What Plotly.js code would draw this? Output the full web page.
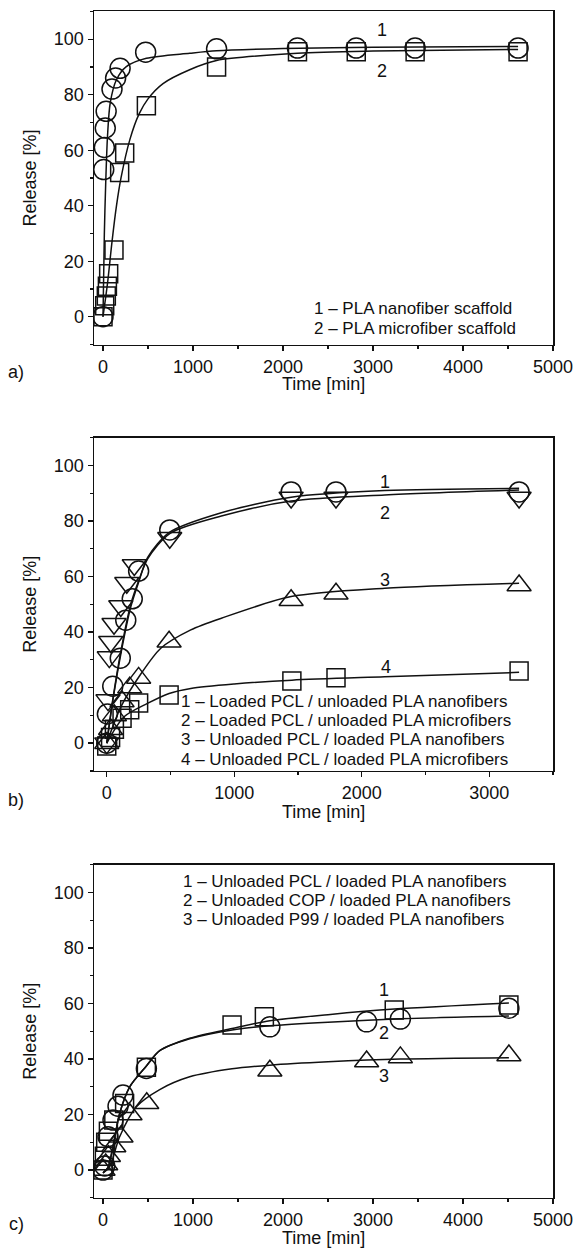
<!DOCTYPE html>
<html>
<head>
<meta charset="utf-8">
<script src="https://cdn.plot.ly/plotly-3.0.1.min.js"></script>
<style>html,body{margin:0;padding:0;background:#fff;}#chart{width:574px;height:1250px;}</style>
</head>
<body>
<div id="chart"></div>
<script>
// ---------- Panel a ----------
const aNames = ['PLA nanofiber scaffold', 'PLA microfiber scaffold'];
const aTime1 = [0, 8, 15, 25, 35, 100, 140, 190, 474, 1262, 2161, 2814, 3468, 4612];
const aRel1  = [0, 53, 61, 68, 74, 82, 86, 89.5, 95.3, 96.5, 96.8, 96.8, 96.8, 96.8];
const aTime2 = [0, 19, 37, 49, 63, 122, 185, 241, 482, 1262, 2161, 2814, 3468, 4612];
const aRel2  = [0, 4, 7.5, 11, 15.5, 24, 52, 59, 76, 90, 95.5, 95.5, 95.5, 95.5];
const aFitT1 = [0, 15, 30, 50, 80, 148, 259, 482, 963, 1262, 2000, 3000, 4612];
const aFitV1 = [0, 30, 48, 65, 77, 85.3, 90.1, 93.1, 94.9, 95.8, 96.6, 97.1, 97.4];
const aFitT2 = [0, 50, 100, 150, 200, 300, 400, 500, 667, 963, 1262, 2161, 3000, 4612];
const aFitV2 = [0, 12, 27, 40, 50, 64, 73, 78.5, 84, 89, 92.3, 94.9, 95.7, 96.3];

// ---------- Panel b ----------
const bNames = ['Loaded PCL / unloaded PLA nanofibers', 'Loaded PCL / unloaded PLA microfibers',
                'Unloaded PCL / loaded PLA nanofibers', 'Unloaded PCL / loaded PLA microfibers'];
const bTime1 = [0, 5, 47, 106, 149, 200, 250, 494, 1446, 1798, 3234];
const bRel1  = [0, 10.5, 20.5, 30.6, 44.3, 52, 62, 76.8, 90.5, 90.5, 90.5];
const bTime2 = [0, 10, 20, 31, 57, 110, 157, 216, 494, 1446, 1798, 3234];
const bRel2  = [0, 15.5, 31, 36.5, 43, 49.4, 57.8, 64.2, 74, 88.5, 88.5, 88.5];
const bTime3 = [0, 30, 60, 120, 180, 250, 489, 1446, 1798, 3234];
const bRel3  = [0, 5, 10, 15, 20, 23.5, 36.5, 51.5, 53.8, 56.8];
const bTime4 = [0, 30, 60, 120, 180, 250, 489, 1452, 1798, 3234];
const bRel4  = [-1, 2, 5, 9, 12, 14.5, 17.3, 22.4, 23.6, 26];
const bFitT1 = [0, 50, 110, 188, 250, 322, 494, 899, 1446, 2180, 3234];
const bFitV1 = [0, 16, 32, 49, 58, 67, 76, 83, 88.6, 91, 91.8];
const bFitT2 = [0, 50, 110, 188, 250, 322, 494, 899, 1446, 2180, 3234];
const bFitV2 = [0, 16.5, 33, 50, 58.5, 66.5, 75.5, 81.8, 87.2, 89.4, 91.2];
const bFitT3 = [0, 110, 254, 424, 659, 899, 1446, 2180, 3234];
const bFitV3 = [0, 13, 24, 34.2, 40.8, 45, 52.8, 55.8, 57.6];
const bFitT4 = [0, 136, 319, 489, 659, 1000, 1452, 2180, 3234];
const bFitV4 = [0, 9.5, 14.3, 17.9, 19.7, 21.3, 22.7, 23.9, 25.5];

// ---------- Panel c ----------
const cNames = ['Unloaded PCL / loaded PLA nanofibers', 'Unloaded COP / loaded PLA nanofibers',
                'Unloaded P99 / loaded PLA nanofibers'];
const cTime1 = [0, 15, 30, 60, 120, 240, 482, 1434, 1793, 3236, 4510];
const cRel1  = [0, 5, 10, 14, 18, 24, 37, 52.3, 55.2, 57.7, 59.5];
const cTime2 = [0, 19, 56, 111, 167, 222, 482, 1854, 2929, 3304, 4510];
const cRel2  = [0, 1.5, 12, 18, 23, 27, 36.6, 51.6, 53.4, 54.4, 58.3];
const cTime3 = [0, 30, 60, 120, 200, 300, 486, 1854, 2929, 3304, 4510];
const cRel3  = [0, 2, 5, 8.5, 12, 20, 24.1, 35.8, 39.1, 40.6, 41.3];
const cFitT1 = [0, 56, 111, 185, 297, 482, 630, 963, 1434, 1854, 2500, 3236, 4510];
const cFitV1 = [-1, 1, 8.5, 20.4, 30, 37.5, 43, 47.5, 51, 53.8, 56, 58, 60.2];
const cFitT2 = [0, 56, 111, 185, 297, 482, 630, 963, 1434, 1854, 2500, 3304, 4510];
const cFitV2 = [-1, 1, 8.5, 20.4, 30, 37.5, 43, 47.3, 50.5, 52, 53.3, 54.5, 55.5];
const cFitT3 = [0, 74, 185, 371, 630, 963, 1434, 1854, 2500, 3304, 4510];
const cFitV3 = [-1, 1.2, 12, 22.8, 29, 33.6, 36.5, 37.8, 39, 40, 40.5];

// ---------- Tick labels ----------
const yTicks = [0, 20, 40, 60, 80, 100];
const xTicksAC = [0, 1000, 2000, 3000, 4000, 5000];
const xTicksB = [0, 1000, 2000, 3000];

const INK = '#111';
const FONT = 'Liberation Sans, Arial, Helvetica, sans-serif';

function pts(x, y, sym, size, xa, ya, name) {
  return {x: x, y: y, xaxis: xa, yaxis: ya, mode: 'markers', type: 'scatter', name: name,
    marker: {symbol: sym, size: size, color: INK, line: {width: 1.5, color: INK}}, showlegend: false};
}
function fit(x, y, xa, ya, name) {
  return {x: x, y: y, xaxis: xa, yaxis: ya, mode: 'lines', type: 'scatter', name: name + ' fit',
    line: {color: INK, width: 1.5, shape: 'spline', smoothing: 0.8}, showlegend: false, hoverinfo: 'skip'};
}

const traces = [
  fit(aFitT1, aFitV1, 'x', 'y', aNames[0]), fit(aFitT2, aFitV2, 'x', 'y', aNames[1]),
  pts(aTime1, aRel1, 'circle-open', 20, 'x', 'y', aNames[0]),
  pts(aTime2, aRel2, 'square-open', 18, 'x', 'y', aNames[1]),

  fit(bFitT1, bFitV1, 'x2', 'y2', bNames[0]), fit(bFitT2, bFitV2, 'x2', 'y2', bNames[1]),
  fit(bFitT3, bFitV3, 'x2', 'y2', bNames[2]), fit(bFitT4, bFitV4, 'x2', 'y2', bNames[3]),
  pts(bTime1, bRel1, 'circle-open', 20, 'x2', 'y2', bNames[0]),
  pts(bTime2, bRel2, 'triangle-down-open', 21, 'x2', 'y2', bNames[1]),
  pts(bTime3, bRel3, 'triangle-up-open', 21, 'x2', 'y2', bNames[2]),
  pts(bTime4, bRel4, 'square-open', 18, 'x2', 'y2', bNames[3]),

  fit(cFitT1, cFitV1, 'x3', 'y3', cNames[0]), fit(cFitT2, cFitV2, 'x3', 'y3', cNames[1]),
  fit(cFitT3, cFitV3, 'x3', 'y3', cNames[2]),
  pts(cTime1, cRel1, 'square-open', 18, 'x3', 'y3', cNames[0]),
  pts(cTime2, cRel2, 'circle-open', 20, 'x3', 'y3', cNames[1]),
  pts(cTime3, cRel3, 'triangle-up-open', 21, 'x3', 'y3', cNames[2])
];

function xax(range, ticks, anchor) {
  return {range: range, tickvals: ticks, tickformat: 'd', anchor: anchor, domain: [0, 1],
    showline: true, mirror: true, linecolor: INK, linewidth: 1.5, showgrid: false, zeroline: false,
    ticks: 'outside', ticklen: 5, tickwidth: 1.3, tickcolor: INK,
    minor: {dtick: 500, tick0: 0, ticks: 'outside', ticklen: 3, tickwidth: 1.2, tickcolor: INK, showgrid: false},
    tickfont: {family: FONT, size: 18, color: INK}};
}
function yax(domain, anchor) {
  return {range: [-10, 110], tickvals: yTicks, anchor: anchor, domain: domain,
    showline: true, mirror: true, linecolor: INK, linewidth: 1.5, showgrid: false, zeroline: false,
    ticks: 'outside', ticklen: 5, tickwidth: 1.3, tickcolor: INK,
    minor: {dtick: 10, tick0: 0, ticks: 'outside', ticklen: 3, tickwidth: 1.2, tickcolor: INK, showgrid: false},
    tickfont: {family: FONT, size: 18, color: INK},
    title: {text: 'Release [%]', font: {family: FONT, size: 18, color: INK}, standoff: 12}};
}

function txt(text, x, y, xref, yref, xanchor, size) {
  return {text: text, x: x, y: y, xref: xref, yref: yref, xanchor: xanchor, yanchor: 'middle',
    showarrow: false, font: {family: FONT, size: size, color: INK}};
}
const H = 1250, L = 94, W = 459;
function px(xp) { return (xp - L) / W; }
function py(yp) { return 1 - yp / H; }
const LG = 17;

const ann = [
  txt('a)', px(16), py(372), 'paper', 'paper', 'center', 18),
  txt('b)', px(16), py(800), 'paper', 'paper', 'center', 18),
  txt('c)', px(16), py(1224), 'paper', 'paper', 'center', 18),

  txt('Time [min]', px(323.5), py(384), 'paper', 'paper', 'center', 18),
  txt('Time [min]', px(323.5), py(812), 'paper', 'paper', 'center', 18),
  txt('Time [min]', px(323.5), py(1238), 'paper', 'paper', 'center', 18),

  txt('1 – ' + aNames[0], px(312), py(309), 'paper', 'paper', 'left', LG),
  txt('2 – ' + aNames[1], px(312), py(328.2), 'paper', 'paper', 'left', LG),

  txt('1 – ' + bNames[0], px(179), py(701.5), 'paper', 'paper', 'left', LG),
  txt('2 – ' + bNames[1], px(179), py(720.7), 'paper', 'paper', 'left', LG),
  txt('3 – ' + bNames[2], px(179), py(739.9), 'paper', 'paper', 'left', LG),
  txt('4 – ' + bNames[3], px(179), py(759.1), 'paper', 'paper', 'left', LG),

  txt('1 – ' + cNames[0], px(181), py(881.5), 'paper', 'paper', 'left', LG),
  txt('2 – ' + cNames[1], px(181), py(900.7), 'paper', 'paper', 'left', LG),
  txt('3 – ' + cNames[2], px(181), py(919.9), 'paper', 'paper', 'left', LG),

  txt('1', 3100, 103.3, 'x', 'y', 'center', 18),
  txt('2', 3100, 88.5, 'x', 'y', 'center', 18),
  txt('1', 2180, 94.2, 'x2', 'y2', 'center', 18),
  txt('2', 2180, 82.8, 'x2', 'y2', 'center', 18),
  txt('3', 2180, 58.8, 'x2', 'y2', 'center', 18),
  txt('4', 2190, 27.5, 'x2', 'y2', 'center', 18),
  txt('1', 3120, 64.9, 'x3', 'y3', 'center', 18),
  txt('2', 3120, 49.3, 'x3', 'y3', 'center', 18),
  txt('3', 3120, 33.9, 'x3', 'y3', 'center', 18)
];

const layout = {
  width: 574, height: H, margin: {l: L, r: 21, t: 0, b: 0, autoexpand: false},
  paper_bgcolor: '#fff', plot_bgcolor: '#fff', showlegend: false,
  font: {family: FONT, size: 18, color: INK},
  xaxis: xax([-100, 5000], xTicksAC, 'y'),
  yaxis: yax([py(344.5), py(11.4)], 'x'),
  xaxis2: xax([-100, 3500], xTicksB, 'y2'),
  yaxis2: yax([py(770.9), py(437.8)], 'x2'),
  xaxis3: xax([-100, 5000], xTicksAC, 'y3'),
  yaxis3: yax([py(1197.8), py(864.8)], 'x3'),
  annotations: ann
};

Plotly.newPlot('chart', traces, layout, {staticPlot: true, displayModeBar: false});
</script>
</body>
</html>
